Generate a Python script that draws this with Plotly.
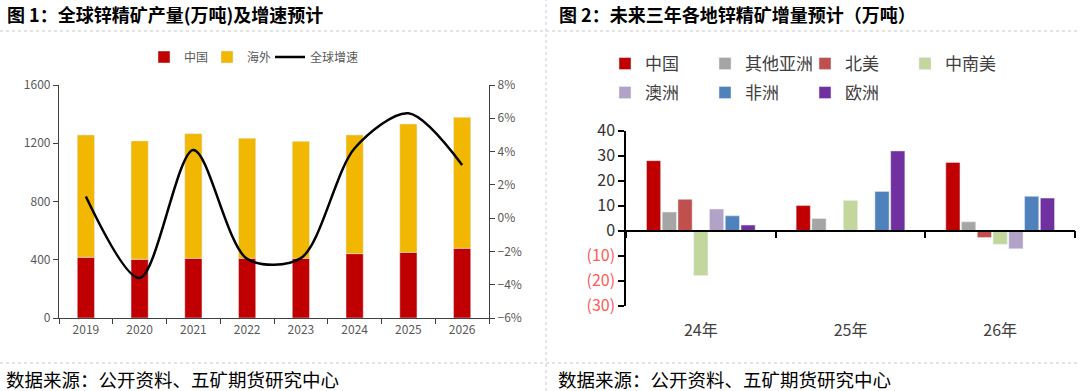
import plotly.graph_objects as go

# ---------------- data ----------------
years = ["2019", "2020", "2021", "2022", "2023", "2024", "2025", "2026"]
china_output = [417, 403, 410, 410, 410, 442, 451, 479]
total_output = [1257, 1216, 1266, 1234, 1213, 1257, 1332, 1378]
overseas_output = [t - c for t, c in zip(total_output, china_output)]
global_growth = [1.3, -3.6, 4.1, -2.45, -2.4, 4.2, 6.3, 3.2]
growth_ticks = [-6, -4, -2, 0, 2, 4, 6, 8]

periods = ["24年", "25年", "26年"]
regions = ["中国", "其他亚洲", "北美", "中南美", "澳洲", "非洲", "欧洲"]
increments = {
    "中国": [28, 10, 27.3],
    "其他亚洲": [7.4, 4.8, 3.5],
    "北美": [12.5, 0, -2.8],
    "中南美": [-18, 12, -5.5],
    "澳洲": [8.6, 0, -7.3],
    "非洲": [5.9, 15.7, 13.7],
    "欧洲": [2.2, 31.9, 13],
}
region_colors = {
    "中国": "#C00000",
    "其他亚洲": "#A5A5A5",
    "北美": "#C0504D",
    "中南美": "#C3D69B",
    "澳洲": "#B3A2C7",
    "非洲": "#4F81BD",
    "欧洲": "#7030A0",
}
legend_rows = {"中国": "legend2", "其他亚洲": "legend2", "北美": "legend2", "中南美": "legend2",
               "澳洲": "legend3", "非洲": "legend3", "欧洲": "legend3"}
y3_ticks = [40, 30, 20, 10, 0, -10, -20, -30]

# ---------------- layout helpers ----------------
W, H = 1080, 391
FONT = "Noto Sans CJK SC"


def px_x(x):
    return x / W


def px_y(y):
    return (H - y) / H


fig = go.Figure()

# ---------------- left chart ----------------
fig.add_trace(go.Bar(
    x=years, y=china_output, name="中国", marker_color="#C00000",
    width=0.32, offset=-0.16, xaxis="x", yaxis="y", legend="legend",
))
fig.add_trace(go.Bar(
    x=years, y=overseas_output, base=china_output, name="海外",
    marker_color="#F2B700", width=0.32, offset=-0.16,
    xaxis="x", yaxis="y", legend="legend",
))
fig.add_trace(go.Scatter(
    x=years, y=global_growth, name="全球增速", mode="lines",
    line=dict(color="#000000", width=2.5, shape="spline", smoothing=0.85),
    xaxis="x", yaxis="y2", legend="legend", legendwidth=60,
))

# ---------------- right chart ----------------
for r in regions:
    fig.add_trace(go.Bar(
        x=periods, y=increments[r], name=r, marker_color=region_colors[r],
        xaxis="x2", yaxis="y3", legend=legend_rows[r],
    ))

left_dom_x = [px_x(59), px_x(489)]
left_dom_y = [px_y(318), px_y(85)]
right_dom_x = [px_x(626), px_x(1075)]
right_dom_y = [px_y(305.5), px_y(130.7)]
y3_range = [-30, 40]
zero_paper = right_dom_y[0] + (0 - y3_range[0]) / (y3_range[1] - y3_range[0]) * (right_dom_y[1] - right_dom_y[0])

ticktext3 = []
for v in y3_ticks:
    if v < 0:
        ticktext3.append('<span style="color:#FF5B5B">(%d)</span>' % abs(v))
    else:
        ticktext3.append(str(v))
growth_text = [("−%d%%" % abs(v)) if v < 0 else ("%d%%" % v) for v in growth_ticks]

axis_col = "#404040"
legend_right = dict(
    orientation="h", x=px_x(605), xanchor="left", yanchor="top",
    entrywidth=55, entrywidthmode="pixels",
    font=dict(size=17, color="#404040"), bgcolor="rgba(0,0,0,0)",
)
fig.update_layout(
    width=W, height=H,
    margin=dict(l=0, r=0, t=0, b=0, autoexpand=False),
    paper_bgcolor="white", plot_bgcolor="white",
    font=dict(family=FONT, color="#404040"),
    barmode="group", bargap=0.263, bargroupgap=0.1,
    showlegend=True,
    xaxis=dict(
        domain=left_dom_x, anchor="y", type="category", range=[-0.5, 7.5],
        tickson="boundaries", ticks="outside", ticklen=5, tickcolor=axis_col,
        showline=True, linecolor=axis_col, linewidth=1.2, showgrid=False,
        tickfont=dict(size=12, color="#595959"),
    ),
    yaxis=dict(
        domain=left_dom_y, anchor="x", range=[0, 1600], tickvals=[0, 400, 800, 1200, 1600],
        ticks="outside", ticklen=5, tickcolor=axis_col, showline=True,
        linecolor=axis_col, linewidth=1.2, showgrid=False, zeroline=False,
        tickfont=dict(size=12, color="#595959"),
    ),
    yaxis2=dict(
        overlaying="y", side="right", anchor="x", range=[-6, 8],
        tickvals=growth_ticks, ticktext=growth_text,
        ticks="outside", ticklen=5, tickcolor=axis_col, showline=True,
        linecolor=axis_col, linewidth=1.2, showgrid=False, zeroline=False,
        tickfont=dict(size=12, color="#595959"),
    ),
    xaxis2=dict(
        domain=right_dom_x, anchor="free", position=zero_paper, type="category",
        range=[-0.5, 2.5], tickson="boundaries", ticks="outside", ticklen=7,
        tickcolor="#000000", tickwidth=1.5, ticklabelstandoff=85,
        showline=True, linecolor="#000000", linewidth=1.5, showgrid=False, zeroline=False,
        tickfont=dict(size=16, color="#404040"),
    ),
    yaxis3=dict(
        domain=right_dom_y, anchor="x2", range=y3_range, tickvals=y3_ticks,
        ticktext=ticktext3, ticks="outside", ticklen=6, tickcolor="#000000", tickwidth=1.5,
        showline=True, linecolor="#000000", linewidth=1.5, showgrid=False, zeroline=False,
        tickfont=dict(size=16, color="#333333"),
    ),
    legend=dict(
        orientation="h", x=px_x(144), xanchor="left", y=px_y(57), yanchor="middle",
        entrywidth=18, entrywidthmode="pixels",
        font=dict(size=12, color="#595959"), bgcolor="rgba(0,0,0,0)",
    ),
    legend2=dict(legend_right, y=px_y(46)),
    legend3=dict(legend_right, y=px_y(75)),
)

# titles and source notes
for xpos, txt in [(5, "<b>图 1：全球锌精矿产量(万吨)及增速预计</b>"),
                  (557, "<b>图 2：未来三年各地锌精矿增量预计（万吨）</b>")]:
    fig.add_annotation(x=px_x(xpos), y=px_y(14), xref="paper", yref="paper",
                       xanchor="left", yanchor="middle", showarrow=False, text=txt,
                       font=dict(size=18, color="#000000", family=FONT))
for xpos in [4, 556]:
    fig.add_annotation(x=px_x(xpos), y=px_y(379), xref="paper", yref="paper",
                       xanchor="left", yanchor="middle", showarrow=False,
                       text="数据来源：公开资料、五矿期货研究中心",
                       font=dict(size=18.5, color="#000000", family=FONT))

# dotted panel separators
sep = dict(color="#C8C8C8", width=1, dash="dot")
fig.add_shape(type="line", xref="paper", yref="paper", x0=0, x1=1, y0=px_y(31), y1=px_y(31), line=sep)
fig.add_shape(type="line", xref="paper", yref="paper", x0=0, x1=1, y0=px_y(363), y1=px_y(363), line=sep)
fig.add_shape(type="line", xref="paper", yref="paper", x0=px_x(546), x1=px_x(546), y0=0, y1=1, line=sep)

fig.write_html("out.html", config={"displayModeBar": False},
               post_script="document.body.style.margin='0px';")
